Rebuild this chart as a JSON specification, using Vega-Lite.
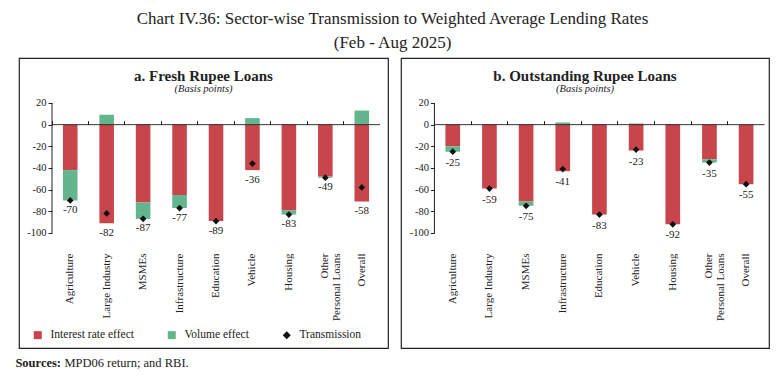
{
  "$schema": "https://vega.github.io/schema/vega-lite/v6.json",
  "padding": {"left": 15, "top": 10, "right": 0, "bottom": 0},
  "background": "white",
  "title": {
    "text": "Chart IV.36: Sector-wise Transmission to Weighted Average Lending Rates",
    "subtitle": "(Feb - Aug 2025)",
    "anchor": "middle",
    "font": "Liberation Serif",
    "fontSize": 17,
    "fontWeight": "normal",
    "color": "#222222",
    "subtitleFont": "Liberation Serif",
    "subtitleFontSize": 17,
    "subtitleColor": "#222222",
    "subtitlePadding": 7,
    "offset": 5
  },
  "datasets": {
    "fresh": [
      {"sector": "Agriculture", "Interest rate effect": -42, "Volume effect": -28, "Transmission": -70},
      {"sector": "Large Industry", "Interest rate effect": -91, "Volume effect": 9, "Transmission": -82},
      {"sector": "MSMEs", "Interest rate effect": -72, "Volume effect": -15, "Transmission": -87},
      {"sector": "Infrastructure", "Interest rate effect": -65, "Volume effect": -12, "Transmission": -77},
      {"sector": "Education", "Interest rate effect": -89, "Volume effect": 0, "Transmission": -89},
      {"sector": "Vehicle", "Interest rate effect": -42, "Volume effect": 6, "Transmission": -36},
      {"sector": "Housing", "Interest rate effect": -79, "Volume effect": -4, "Transmission": -83},
      {"sector": "Other Personal Loans", "Interest rate effect": -48, "Volume effect": -1, "Transmission": -49},
      {"sector": "Overall", "Interest rate effect": -71, "Volume effect": 13, "Transmission": -58}
    ],
    "outstanding": [
      {"sector": "Agriculture", "Interest rate effect": -20, "Volume effect": -5, "Transmission": -25},
      {"sector": "Large Industry", "Interest rate effect": -59, "Volume effect": 0, "Transmission": -59},
      {"sector": "MSMEs", "Interest rate effect": -71, "Volume effect": -4, "Transmission": -75},
      {"sector": "Infrastructure", "Interest rate effect": -43, "Volume effect": 2, "Transmission": -41},
      {"sector": "Education", "Interest rate effect": -83, "Volume effect": 0, "Transmission": -83},
      {"sector": "Vehicle", "Interest rate effect": -24, "Volume effect": 1, "Transmission": -23},
      {"sector": "Housing", "Interest rate effect": -92, "Volume effect": 0, "Transmission": -92},
      {"sector": "Other Personal Loans", "Interest rate effect": -32, "Volume effect": -3, "Transmission": -35},
      {"sector": "Overall", "Interest rate effect": -55, "Volume effect": 0, "Transmission": -55}
    ],
    "first": [{"sector": "Agriculture"}]
  },
  "vconcat": [
    {
      "title": {"text": "MPD06 return; and RBI.", "orient": "bottom", "anchor": "start", "font": "Liberation Serif", "fontSize": 12.5, "fontWeight": "normal", "color": "#222222", "dx": 49, "offset": -12.5},
      "vconcat": [
        {
          "title": {"text": "Sources:", "orient": "bottom", "anchor": "start", "font": "Liberation Serif", "fontSize": 12.5, "fontWeight": "bold", "color": "#222222", "dx": -3, "offset": 8},
          "spacing": 11,
          "hconcat": [
            {
              "width": 369,
              "height": 290,
              "data": {"name": "fresh"},
              "title": {"text": "a. Fresh Rupee Loans", "subtitle": "(Basis points)", "orient": "top", "anchor": "middle", "offset": -36, "font": "Liberation Serif", "fontSize": 15, "fontWeight": "bold", "color": "#222222", "subtitleFont": "Liberation Serif", "subtitleFontStyle": "italic", "subtitleFontSize": 10.5, "subtitleColor": "#222222", "subtitlePadding": 0},
              "transform": [{"calculate": "min(datum['Interest rate effect'], datum['Interest rate effect'] + datum['Volume effect'])", "as": "low"}],
              "layer": [
                {
                  "transform": [{"fold": ["Interest rate effect", "Volume effect"], "as": ["series", "value"]}],
                  "mark": {"type": "bar", "width": {"band": 0.4}},
                  "encoding": {
                    "x": {"field": "sector", "type": "nominal", "sort": null,
                      "scale": {"type": "band", "domain": ["Agriculture", "Large Industry", "MSMEs", "Infrastructure", "Education", "Vehicle", "Housing", "Other Personal Loans", "Overall"], "paddingInner": 0, "paddingOuter": 0.5625, "align": 0.805},
                      "axis": {"orient": "bottom", "offset": -97, "title": null, "labelAngle": -90, "ticks": false, "domain": false, "labelPadding": 2, "labelFont": "Liberation Serif", "labelFontSize": 11, "labelColor": "#222222", "labelLineHeight": 12, "labelExpr": "datum.value == 'Other Personal Loans' ? ['Other', 'Personal Loans'] : datum.label"}},
                    "y": {"field": "value", "type": "quantitative", "stack": "zero",
                      "scale": {"domain": [-206.2, 61.5], "nice": false, "zero": false},
                      "axis": {"values": [-100, -80, -60, -40, -20, 0, 20], "offset": -33, "domain": false, "grid": false, "tickSize": 4, "tickColor": "#222222", "labelFont": "Liberation Serif", "labelFontSize": 10.5, "labelColor": "#222222", "labelPadding": 2, "title": null, "labelExpr": "'' + datum.value"}},
                    "color": {"field": "series", "type": "nominal",
                      "scale": {"domain": ["Interest rate effect", "Volume effect", "Transmission"], "range": ["#C8454B", "#62B58C", "#111111"]},
                      "legend": {"title": null, "orient": "none", "legendX": 13, "legendY": 271, "direction": "horizontal", "symbolType": "square", "symbolSize": 64, "symbolStrokeWidth": 0, "labelFont": "Liberation Serif", "labelFontSize": 11.5, "labelColor": "#222222", "labelOffset": 7, "columnPadding": 32,
                        "encode": {"symbols": {"update": {"shape": {"signal": "datum.value === 'Transmission' ? 'diamond' : 'square'"}}}}}},
                    "order": {"field": "series"}
                  }
                },
                {
                  "mark": {"type": "rect", "fill": "#222222", "stroke": "#222222", "strokeWidth": 0.6},
                  "encoding": {
                    "x": {"field": "sector", "type": "nominal", "sort": null,
                      "scale": {"type": "band", "domain": ["Agriculture", "Large Industry", "MSMEs", "Infrastructure", "Education", "Vehicle", "Housing", "Other Personal Loans", "Overall"], "paddingInner": 0, "paddingOuter": 0.5625, "align": 0.805},
                      "axis": {"orient": "top", "offset": -66.6, "bandPosition": 0, "labels": false, "domain": false, "grid": false, "ticks": true, "tickSize": 4, "tickColor": "#222222", "title": null}},
                    "y": {"datum": 0, "type": "quantitative"},
                    "y2": {"datum": 0}
                  }
                },
                {
                  "data": {"name": "first"},
                  "mark": {"type": "rule", "color": "#222222", "strokeWidth": 1},
                  "encoding": {
                    "x": {"field": "sector", "type": "nominal", "sort": null, "bandPosition": 0,
                      "scale": {"type": "band", "domain": ["Agriculture", "Large Industry", "MSMEs", "Infrastructure", "Education", "Vehicle", "Housing", "Other Personal Loans", "Overall"], "paddingInner": 0, "paddingOuter": 0.5625, "align": 0.805},
                      "axis": null},
                    "y": {"datum": -100, "type": "quantitative"},
                    "y2": {"datum": 20}
                  }
                },
                {
                  "mark": {"type": "point", "shape": "diamond", "filled": true, "size": 45, "color": "#111111", "opacity": 1},
                  "encoding": {
                    "x": {"field": "sector", "type": "nominal", "sort": null,
                      "scale": {"type": "band", "domain": ["Agriculture", "Large Industry", "MSMEs", "Infrastructure", "Education", "Vehicle", "Housing", "Other Personal Loans", "Overall"], "paddingInner": 0, "paddingOuter": 0.5625, "align": 0.805},
                      "axis": null},
                    "y": {"field": "Transmission", "type": "quantitative"}
                  }
                },
                {
                  "mark": {"type": "text", "dy": 9.5, "baseline": "middle", "font": "Liberation Serif", "fontSize": 11, "color": "#222222"},
                  "encoding": {
                    "x": {"field": "sector", "type": "nominal", "sort": null,
                      "scale": {"type": "band", "domain": ["Agriculture", "Large Industry", "MSMEs", "Infrastructure", "Education", "Vehicle", "Housing", "Other Personal Loans", "Overall"], "paddingInner": 0, "paddingOuter": 0.5625, "align": 0.805},
                      "axis": null},
                    "y": {"field": "low", "type": "quantitative"},
                    "text": {"field": "Transmission", "type": "nominal"}
                  }
                }
              ],
              "resolve": {"axis": {"x": "independent"}}
            },
            {
              "width": 368,
              "height": 290,
              "data": {"name": "outstanding"},
              "title": {"text": "b. Outstanding Rupee Loans", "subtitle": "(Basis points)", "orient": "top", "anchor": "middle", "offset": -36, "font": "Liberation Serif", "fontSize": 15, "fontWeight": "bold", "color": "#222222", "subtitleFont": "Liberation Serif", "subtitleFontStyle": "italic", "subtitleFontSize": 10.5, "subtitleColor": "#222222", "subtitlePadding": 0},
              "transform": [{"calculate": "min(datum['Interest rate effect'], datum['Interest rate effect'] + datum['Volume effect'])", "as": "low"}],
              "layer": [
                {
                  "transform": [{"fold": ["Interest rate effect", "Volume effect"], "as": ["series", "value"]}],
                  "mark": {"type": "bar", "width": {"band": 0.4}},
                  "encoding": {
                    "x": {"field": "sector", "type": "nominal", "sort": null,
                      "scale": {"type": "band", "domain": ["Agriculture", "Large Industry", "MSMEs", "Infrastructure", "Education", "Vehicle", "Housing", "Other Personal Loans", "Overall"], "paddingInner": 0, "paddingOuter": 0.518, "align": 0.88},
                      "axis": {"orient": "bottom", "offset": -97, "title": null, "labelAngle": -90, "ticks": false, "domain": false, "labelPadding": 2, "labelFont": "Liberation Serif", "labelFontSize": 11, "labelColor": "#222222", "labelLineHeight": 12, "labelExpr": "datum.value == 'Other Personal Loans' ? ['Other', 'Personal Loans'] : datum.label"}},
                    "y": {"field": "value", "type": "quantitative", "stack": "zero",
                      "scale": {"domain": [-206.2, 61.5], "nice": false, "zero": false},
                      "axis": {"values": [-100, -80, -60, -40, -20, 0, 20], "offset": -33.4, "domain": false, "grid": false, "tickSize": 4, "tickColor": "#222222", "labelFont": "Liberation Serif", "labelFontSize": 10.5, "labelColor": "#222222", "labelPadding": 2, "title": null, "labelExpr": "'' + datum.value"}},
                    "color": {"field": "series", "type": "nominal",
                      "scale": {"domain": ["Interest rate effect", "Volume effect", "Transmission"], "range": ["#C8454B", "#62B58C", "#111111"]},
                      "legend": {"title": null, "orient": "none", "legendX": 16, "legendY": 271, "direction": "horizontal", "symbolType": "square", "symbolSize": 64, "symbolStrokeWidth": 0, "labelFont": "Liberation Serif", "labelFontSize": 11.5, "labelColor": "#222222", "labelOffset": 7, "columnPadding": 32,
                        "encode": {"symbols": {"update": {"shape": {"signal": "datum.value === 'Transmission' ? 'diamond' : 'square'"}}}}}},
                    "order": {"field": "series"}
                  }
                },
                {
                  "mark": {"type": "rect", "fill": "#222222", "stroke": "#222222", "strokeWidth": 0.6},
                  "encoding": {
                    "x": {"field": "sector", "type": "nominal", "sort": null,
                      "scale": {"type": "band", "domain": ["Agriculture", "Large Industry", "MSMEs", "Infrastructure", "Education", "Vehicle", "Housing", "Other Personal Loans", "Overall"], "paddingInner": 0, "paddingOuter": 0.518, "align": 0.88},
                      "axis": {"orient": "top", "offset": -66.6, "bandPosition": 0, "labels": false, "domain": false, "grid": false, "ticks": true, "tickSize": 4, "tickColor": "#222222", "title": null}},
                    "y": {"datum": 0, "type": "quantitative"},
                    "y2": {"datum": 0}
                  }
                },
                {
                  "data": {"name": "first"},
                  "mark": {"type": "rule", "color": "#222222", "strokeWidth": 1},
                  "encoding": {
                    "x": {"field": "sector", "type": "nominal", "sort": null, "bandPosition": 0,
                      "scale": {"type": "band", "domain": ["Agriculture", "Large Industry", "MSMEs", "Infrastructure", "Education", "Vehicle", "Housing", "Other Personal Loans", "Overall"], "paddingInner": 0, "paddingOuter": 0.518, "align": 0.88},
                      "axis": null},
                    "y": {"datum": -100, "type": "quantitative"},
                    "y2": {"datum": 20}
                  }
                },
                {
                  "mark": {"type": "point", "shape": "diamond", "filled": true, "size": 45, "color": "#111111", "opacity": 1},
                  "encoding": {
                    "x": {"field": "sector", "type": "nominal", "sort": null,
                      "scale": {"type": "band", "domain": ["Agriculture", "Large Industry", "MSMEs", "Infrastructure", "Education", "Vehicle", "Housing", "Other Personal Loans", "Overall"], "paddingInner": 0, "paddingOuter": 0.518, "align": 0.88},
                      "axis": null},
                    "y": {"field": "Transmission", "type": "quantitative"}
                  }
                },
                {
                  "mark": {"type": "text", "dy": 11, "baseline": "middle", "font": "Liberation Serif", "fontSize": 11, "color": "#222222"},
                  "encoding": {
                    "x": {"field": "sector", "type": "nominal", "sort": null,
                      "scale": {"type": "band", "domain": ["Agriculture", "Large Industry", "MSMEs", "Infrastructure", "Education", "Vehicle", "Housing", "Other Personal Loans", "Overall"], "paddingInner": 0, "paddingOuter": 0.518, "align": 0.88},
                      "axis": null},
                    "y": {"field": "low", "type": "quantitative"},
                    "text": {"field": "Transmission", "type": "nominal"}
                  }
                }
              ],
              "resolve": {"axis": {"x": "independent"}}
            }
          ]
        }
      ]
    }
  ],
  "config": {
    "view": {"stroke": "#222222", "strokeWidth": 1.2},
    "axis": {"labelFont": "Liberation Serif"}
  }
}
